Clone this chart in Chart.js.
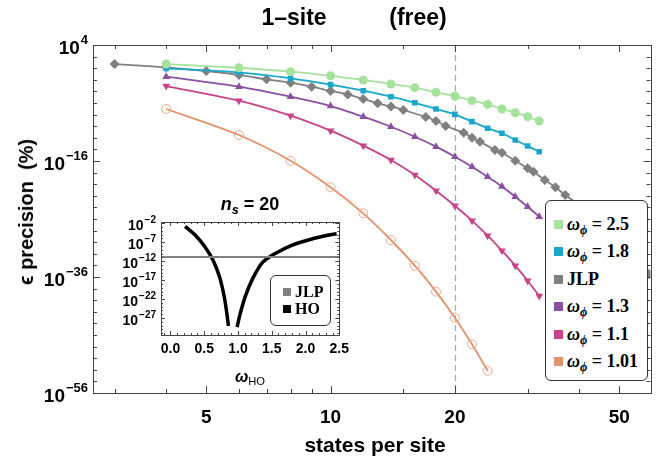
<!DOCTYPE html>
<html>
<head>
<meta charset="utf-8">
<script src="https://cdn.jsdelivr.net/npm/chart.js@4.4.1/dist/chart.umd.min.js"></script>
<style>
  body { margin:0; background:#fff; }
  #wrap { position:relative; width:656px; height:463px; font-family:"Liberation Sans", Arial, sans-serif; font-weight:bold; color:#000; }
  canvas { position:absolute; }
  .txt { position:absolute; white-space:pre; line-height:1; }
  .box { position:absolute; background:#fff; border:1px solid #333; border-radius:6px; font-family:"Liberation Serif", "Times New Roman", serif; font-weight:bold; }
  .row { position:absolute; left:0; display:flex; align-items:center; white-space:nowrap; }
  .sw { display:inline-block; margin-right:4px; }
  sub { font-size:70%; vertical-align:-0.3em; line-height:0; }
</style>
</head>
<body>
<div id="wrap">
  <canvas id="main" width="656" height="463" style="left:0;top:0"></canvas>
  <canvas id="inset" width="260" height="210" style="left:95px;top:185px"></canvas>
  <div class="txt" style="left:294px;top:6px;font-size:23px;transform:translateX(-50%)">1–site</div>
  <div class="txt" style="left:418px;top:6px;font-size:23px;transform:translateX(-50%)">(free)</div>
  <div class="txt" style="left:26px;top:212px;font-size:20px;transform:translate(-50%,-50%) rotate(-90deg)">ϵ precision  (%)</div>
  <div class="txt" style="left:375px;top:434px;font-size:21px;transform:translateX(-50%)">states per site</div>
  <div class="txt" style="left:250px;top:195px;font-size:18px;transform:translateX(-50%)"><i>n</i><sub><i>s</i></sub> = 20</div>
  <div class="txt" style="left:250px;top:369px;font-size:16px;transform:translateX(-50%)"><i>ω</i><sub style="font-weight:normal">HO</sub></div>
  <div class="box" id="legend" style="left:545px;top:200px;width:101px;height:179px"></div>
  <div class="box" id="insetLegend" style="left:270px;top:275px;width:59px;height:49px"></div>
</div>
<script>
// main plot: states per site vs precision
const nJLP = [3,4,5,6,7,8,9,10,11,12,13,14,15,17,18,19,21,22,23,25,26,28,30,31,33,35,37,40,45,50,55,59];
const jlp  = [5.2e0,1.4e0,3.3e-1,6.8e-2,1.2e-2,3.2e-3,6.5e-4,1.2e-4,3.0e-5,4.9e-6,8.9e-7,2.5e-7,6.2e-8,
              3.9e-9,7.9e-10,1.1e-10,7.6e-12,1.05e-12,2.1e-13,7.9e-15,2.7e-15,1.1e-16,5.5e-18,1.4e-18,
              5.2e-20,3.0e-21,1.4e-22,2.5e-24,3.2e-27,2.5e-30,2.0e-33,3.2e-36];
const nEven = [4,6,8,10,12,14,16,18,20,22,24,26,28,30,32];
const w25  = [5.2e0,1.2e0,2.5e-1,4.9e-2,9.3e-3,1.9e-3,4.4e-4,6.9e-5,1.6e-5,2.5e-6,6.0e-7,9.3e-8,2.1e-8,4.4e-9,7.9e-10];
const w18  = [9.5e-1,1.9e-1,1.8e-2,1.5e-3,1.3e-4,1.2e-5,1.1e-6,9.3e-8,1.1e-8,6.0e-10,4.4e-11,6.0e-12,4.2e-13,3.9e-14,4.0e-15];
const w13  = [3.4e-2,6.5e-4,1.2e-5,3.0e-7,4.4e-9,8.1e-11,1.5e-12,3.0e-14,5.5e-16,1.05e-17,1.9e-19,4.0e-21,6.9e-23,1.3e-24,2.5e-26];
const w11  = [8.5e-4,2.5e-6,6.5e-9,1.7e-11,4.4e-14,1.5e-16,3.9e-19,7.6e-22,1.9e-24,5.1e-27,1.3e-29,3.4e-32,8.9e-35,2.3e-37,5.2e-40];
const nOrange = [4,6,8,10,12,14,16,18,20,22,24];
const w101 = [9.3e-8,3.0e-12,1.1e-16,3.0e-21,9.5e-26,2.4e-30,8.9e-35,3.0e-39,9.5e-44,2.5e-48,6.9e-53];

const xTicks = [5,10,20,50];
const xMinor = [3,4,6,7,8,9,15,30,40];
const yTicks = [1e4,1e-16,1e-36,1e-56];

const seriesLabels = ['2.5','1.8','JLP','1.3','1.1','1.01'];
const seriesColors = ['#a6e29e','#1ba7c9','#808080','#8c4ea3','#c8428a','#e2916a'];

// inset: n_s = 20, precision vs omega_HO
const hoLeftW  = [0.217,0.369,0.512,0.631,0.726,0.797,0.835,0.859];
const hoLeft   = [1.6e-3,6.9e-6,5.8e-9,1.8e-12,7.4e-17,4.1e-22,1.7e-26,7.8e-30];
const hoRightW = [0.987,1.034,1.106,1.225,1.368,1.558,1.796,2.081,2.367,2.461];
const hoRight  = [4.3e-30,1.7e-26,4.1e-22,4.6e-17,5.5e-13,1.3e-10,1.6e-8,6.2e-7,9.3e-6,1.7e-5];
const jlpInsetW = [-0.14,2.5];
const jlpInset  = [1.35e-11,1.35e-11];
const insetXTicks = [0,0.5,1,1.5,2,2.5];
const insetYTicks = [1e-2,1e-7,1e-12,1e-17,1e-22,1e-27];

const pts = (xs, ys) => xs.map((x,i) => ({x:x, y:ys[i]}));

// dashed marker line + frame with inward ticks + 10^n labels
const framePlugin = {
  id: 'frame',
  beforeDatasetsDraw(chart, args, o) {
    if (o.dashAt == null) return;
    const {ctx, chartArea:a, scales:{x}} = chart;
    const px = Math.round(x.getPixelForValue(o.dashAt)) + 0.5;
    ctx.save();
    ctx.strokeStyle = '#a8a8a8'; ctx.lineWidth = 1.2; ctx.setLineDash([6,4]);
    ctx.beginPath(); ctx.moveTo(px, a.top); ctx.lineTo(px, a.bottom); ctx.stroke();
    ctx.restore();
  },
  afterDraw(chart, args, o) {
    const {ctx, chartArea:a, scales:{x, y}} = chart;
    ctx.save();
    ctx.strokeStyle = '#444'; ctx.lineWidth = 1;
    ctx.strokeRect(Math.round(a.left)+0.5, Math.round(a.top)+0.5, Math.round(a.right-a.left), Math.round(a.bottom-a.top));
    ctx.beginPath();
    const xt = (vals, len) => vals.forEach(v => {
      const p = Math.round(x.getPixelForValue(v)) + 0.5;
      ctx.moveTo(p, a.bottom); ctx.lineTo(p, a.bottom - len);
      ctx.moveTo(p, a.top); ctx.lineTo(p, a.top + len);
    });
    const yt = (vals, len) => vals.forEach(v => {
      const p = Math.round(y.getPixelForValue(v)) + 0.5;
      ctx.moveTo(a.left, p); ctx.lineTo(a.left + len, p);
      ctx.moveTo(a.right, p); ctx.lineTo(a.right - len, p);
    });
    xt(o.xMajor, o.major); xt(o.xMinor, o.minor);
    yt(o.yMajor, o.major); yt(o.yMinor, o.minor);
    ctx.stroke();
    ctx.fillStyle = '#000'; ctx.textAlign = 'right'; ctx.textBaseline = 'middle';
    o.yMajor.forEach(v => {
      const p = y.getPixelForValue(v);
      const e = String(Math.round(Math.log10(v))).replace('-', '\u2212');
      ctx.font = o.supFont;
      const ew = ctx.measureText(e).width;
      ctx.fillText(e, a.left - o.gap, p + o.supDy);
      ctx.font = o.baseFont;
      ctx.fillText('10', a.left - o.gap - ew - 1, p + o.baseDy);
    });
    ctx.restore();
  }
};

const mainMinorY = [];
for (let e = 4; e >= -56; e -= 2) if ((e - 4) % 20 !== 0) mainMinorY.push(Math.pow(10, e));

const markers = ['circle','rect','rectRot','triangle','triangle','circle'];
const seriesData = [pts(nEven,w25), pts(nEven,w18), pts(nJLP,jlp), pts(nEven,w13), pts(nEven,w11), pts(nOrange,w101)];
const datasets = seriesData.map((d,i) => ({
  data: d,
  showLine: true,
  borderColor: seriesColors[i],
  backgroundColor: i === 5 ? 'rgba(255,255,255,0)' : seriesColors[i],
  borderWidth: 1.8,
  tension: 0.25,
  pointStyle: markers[i],
  pointRotation: i === 4 ? 180 : 0,
  pointRadius: i === 2 ? 5 : (i === 1 ? 4 : 4.5),
  pointBorderWidth: i === 5 ? 1 : 0,
  pointBorderColor: i === 5 ? '#eda88a' : seriesColors[i]
}));
// draw JLP on top of 1.8 like the reference
const order = [0,1,3,4,5,2];

const tickFont = {family:'"Liberation Sans", Arial, sans-serif', weight:'bold', size:19};

new Chart(document.getElementById('main'), {
  type: 'scatter',
  data: { datasets: order.map(i => datasets[i]) },
  options: {
    responsive: false, animation: false,
    layout: { padding: {top:45, right:5, left:0, bottom:0} },
    plugins: {
      legend: {display:false}, tooltip: {enabled:false},
      frame: {
        dashAt: 20, xMajor: xTicks, xMinor: xMinor, yMajor: yTicks, yMinor: mainMinorY,
        major: 7, minor: 4, gap: 5,
        baseFont: 'bold 19px "Liberation Sans", Arial, sans-serif', supFont: 'bold 13px "Liberation Sans", Arial, sans-serif',
        baseDy: 4, supDy: -4.5
      }
    },
    scales: {
      x: {
        type: 'logarithmic', min: 2.66, max: 59.5,
        afterFit: s => { s.height = 70; },
        afterBuildTicks: s => { s.ticks = xTicks.map(v => ({value:v})); },
        ticks: { callback: v => String(v), font: tickFont, color:'#000', padding: 13, maxRotation: 0, autoSkip: false },
        grid: { display:false, drawTicks:false }, border: { display:false }
      },
      y: {
        type: 'logarithmic', min: 1e-56, max: 1e4,
        afterFit: s => { s.width = 93; },
        ticks: { display:false },
        grid: { display:false, drawTicks:false }, border: { display:false }
      }
    }
  },
  plugins: [framePlugin]
});

const insetMinorX = [];
for (let k = -1; k <= 25; k++) if (k % 5 !== 0) insetMinorX.push(k / 10);
const insetMinorY = [];
for (let e = -2; e >= -31; e--) if ((e + 2) % 5 !== 0) insetMinorY.push(Math.pow(10, e));

new Chart(document.getElementById('inset'), {
  type: 'scatter',
  data: { datasets: [
    { data: pts(jlpInsetW, jlpInset), showLine:true, borderColor:'#808080', borderWidth:2, pointRadius:0 },
    { data: pts(hoLeftW, hoLeft), showLine:true, borderColor:'#000', borderWidth:3.5, pointRadius:0, tension:0.3 },
    { data: pts(hoRightW, hoRight), showLine:true, borderColor:'#000', borderWidth:3.5, pointRadius:0, tension:0.3 }
  ]},
  options: {
    responsive: false, animation: false,
    layout: { padding: {top:37, right:9, left:0, bottom:0} },
    plugins: {
      legend: {display:false}, tooltip: {enabled:false},
      frame: {
        xMajor: insetXTicks, xMinor: insetMinorX, yMajor: insetYTicks, yMinor: insetMinorY,
        major: 4, minor: 2, gap: 5,
        baseFont: 'bold 14px "Liberation Sans", Arial, sans-serif', supFont: 'bold 10px "Liberation Sans", Arial, sans-serif',
        baseDy: 3, supDy: -3
      }
    },
    scales: {
      x: {
        type: 'linear', min: -0.14, max: 2.5,
        afterFit: s => { s.height = 60; },
        afterBuildTicks: s => { s.ticks = insetXTicks.map(v => ({value:v})); },
        ticks: { callback: v => v.toFixed(1), font: {family:'"Liberation Sans", Arial, sans-serif', weight:'bold', size:14}, color:'#000', padding: 6, maxRotation:0, autoSkip:false },
        grid: { display:false, drawTicks:false }, border: { display:false }
      },
      y: {
        type: 'logarithmic', min: 3.4e-32, max: 2.2e-2,
        afterFit: s => { s.width = 66; },
        ticks: { display:false },
        grid: { display:false, drawTicks:false }, border: { display:false }
      }
    }
  },
  plugins: [framePlugin]
});

// legends
function buildLegend(el, labels, colors, rowTop, rowH, sw, fontSize, left) {
  labels.forEach((lab, i) => {
    const row = document.createElement('div');
    row.className = 'row';
    row.style.top = (rowTop + i * rowH) + 'px';
    row.style.height = rowH + 'px';
    row.style.left = left + 'px';
    row.style.fontSize = fontSize + 'px';
    const s = document.createElement('span');
    s.className = 'sw';
    s.style.width = sw + 'px'; s.style.height = sw + 'px';
    s.style.background = colors[i];
    row.appendChild(s);
    const t = document.createElement('span');
    t.innerHTML = (lab === 'JLP' || lab === 'HO') ? lab : '<i>ω</i><sub><i>ϕ</i></sub> = ' + lab;
    row.appendChild(t);
    el.appendChild(row);
  });
}
buildLegend(document.getElementById('legend'), seriesLabels, seriesColors, 9.5, 27.5, 9, 18, 8);
buildLegend(document.getElementById('insetLegend'), ['JLP','HO'], ['#808080','#000'], 8, 16.6, 8, 16, 12);
</script>
</body>
</html>
